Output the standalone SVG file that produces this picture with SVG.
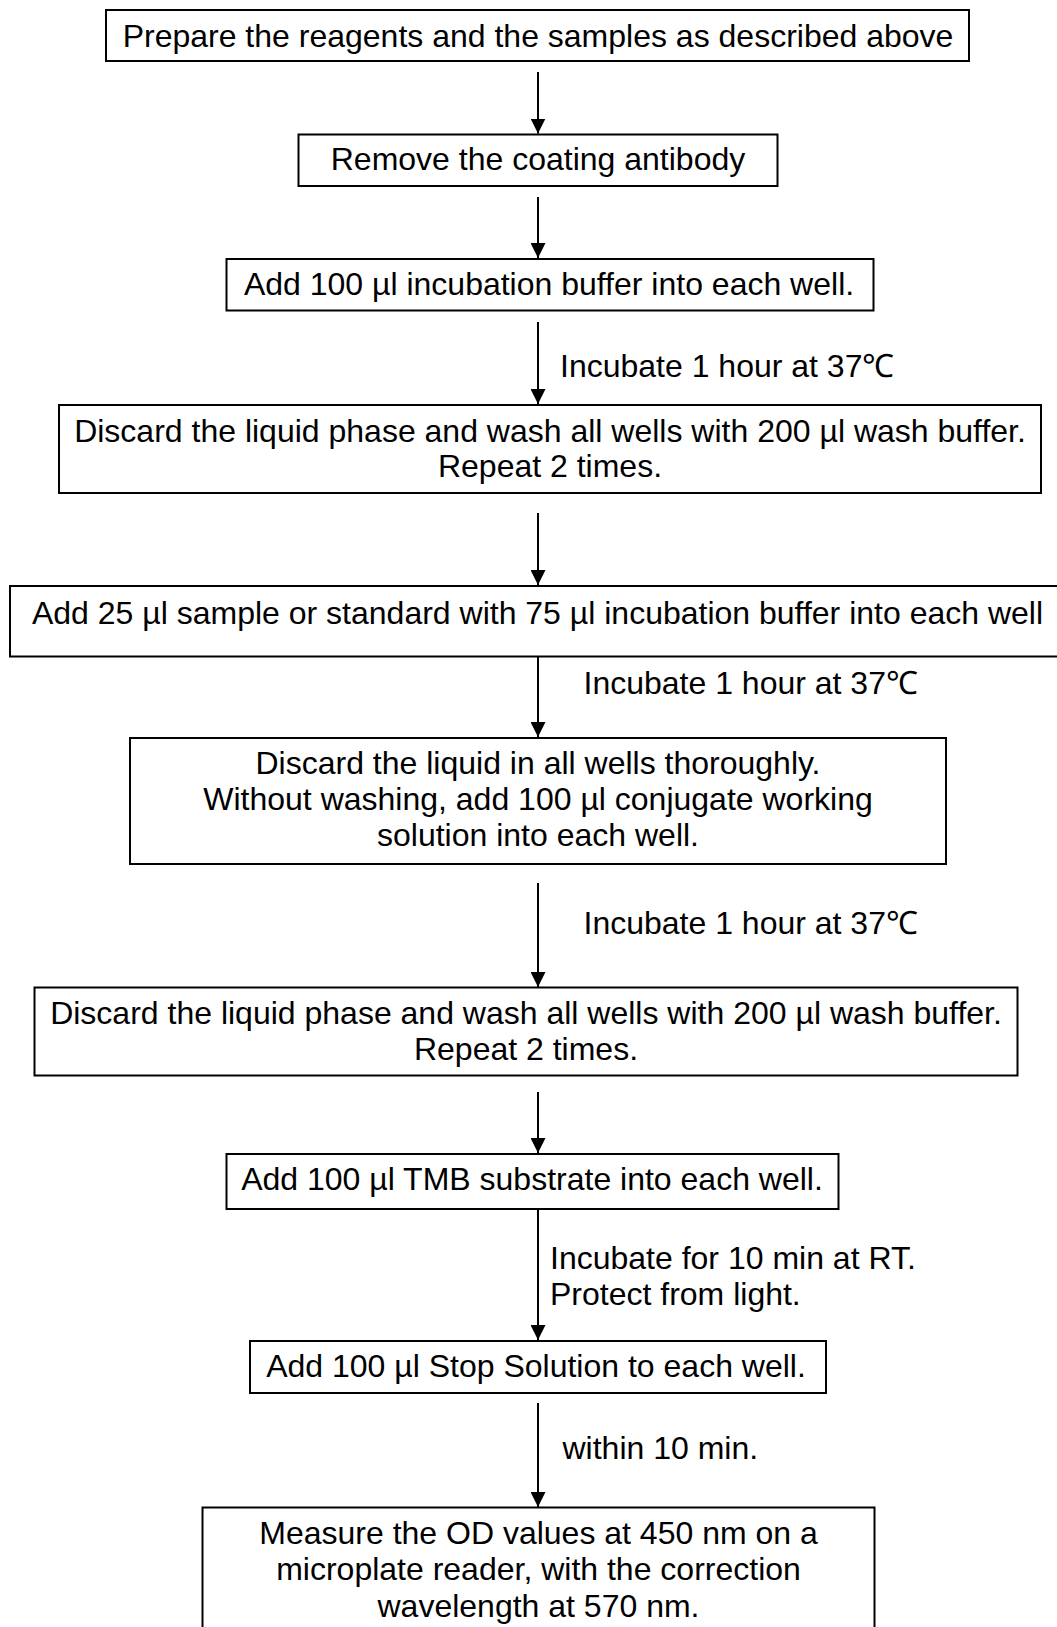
<svg xmlns="http://www.w3.org/2000/svg" width="1057" height="1627" viewBox="0 0 1057 1627">
  <style>
    .box { fill: #fff; stroke: #000; stroke-width: 2; }
    .t { font-family: "Liberation Sans", Arial, sans-serif; font-size: 32px; fill: #000; }
    .c { text-anchor: middle; }
    .edge { stroke: #000; stroke-width: 2; fill: none; marker-end: url(#head); }
  </style>
  <defs>
    <marker id="head" viewBox="0 0 15 15" refX="15" refY="7.5" markerWidth="15" markerHeight="15" markerUnits="userSpaceOnUse" orient="auto">
      <path d="M0,0 L15,7.5 L0,15 z" fill="#000"/>
    </marker>
  </defs>
  <rect width="1057" height="1627" fill="#fff"/>

  <g id="connectors">
    <line class="edge" x1="538" y1="72" x2="538" y2="133.5"/>
    <line class="edge" x1="538" y1="197" x2="538" y2="258"/>
    <line class="edge" x1="538" y1="322" x2="538" y2="404"/>
    <line class="edge" x1="538" y1="513" x2="538" y2="585"/>
    <line class="edge" x1="538" y1="657" x2="538" y2="737"/>
    <line class="edge" x1="538" y1="883" x2="538" y2="987"/>
    <line class="edge" x1="538" y1="1092" x2="538" y2="1153"/>
    <line class="edge" x1="538" y1="1209" x2="538" y2="1340"/>
    <line class="edge" x1="538" y1="1403" x2="538" y2="1507"/>
    <text class="t" x="560" y="376.5">Incubate 1 hour at 37℃</text>
    <text class="t" x="583.5" y="693.5">Incubate 1 hour at 37℃</text>
    <text class="t" x="583.5" y="933.5">Incubate 1 hour at 37℃</text>
    <text class="t" x="550" y="1268.5">Incubate for 10 min at RT.</text>
    <text class="t" x="550" y="1305">Protect from light.</text>
    <text class="t" x="562.5" y="1458.5">within 10 min.</text>
  </g>

  <g id="step1">
    <rect class="box" x="106" y="10" width="863" height="51"/>
    <text class="t c" x="538" y="47">Prepare the reagents and the samples as described above</text>
  </g>
  <g id="step2">
    <rect class="box" x="298.5" y="134.5" width="479" height="51.5"/>
    <text class="t c" x="538" y="170">Remove the coating antibody</text>
  </g>
  <g id="step3">
    <rect class="box" x="226.5" y="259" width="647" height="51.5"/>
    <text class="t c" x="549" y="295">Add 100 µl incubation buffer into each well.</text>
  </g>
  <g id="step4">
    <rect class="box" x="59" y="405" width="982" height="88"/>
    <text class="t c" x="550" y="441.5">Discard the liquid phase and wash all wells with 200 µl wash buffer.</text>
    <text class="t c" x="550" y="477">Repeat 2 times.</text>
  </g>
  <g id="step5">
    <rect class="box" x="10" y="586" width="1060" height="70.5"/>
    <text class="t c" x="537.5" y="623.5">Add 25 µl sample or standard with 75 µl incubation buffer into each well</text>
  </g>
  <g id="step6">
    <rect class="box" x="130" y="738" width="816" height="126"/>
    <text class="t c" x="538" y="773.5">Discard the liquid in all wells thoroughly.</text>
    <text class="t c" x="538" y="810">Without washing, add 100 µl conjugate working</text>
    <text class="t c" x="538" y="845.5">solution into each well.</text>
  </g>
  <g id="step7">
    <rect class="box" x="34.5" y="987.5" width="983" height="88"/>
    <text class="t c" x="526" y="1023.5">Discard the liquid phase and wash all wells with 200 µl wash buffer.</text>
    <text class="t c" x="526" y="1060">Repeat 2 times.</text>
  </g>
  <g id="step8">
    <rect class="box" x="226.5" y="1154" width="612" height="55"/>
    <text class="t c" x="532" y="1190">Add 100 µl TMB substrate into each well.</text>
  </g>
  <g id="step9">
    <rect class="box" x="250" y="1341" width="576" height="52"/>
    <text class="t c" x="536" y="1377">Add 100 µl Stop Solution to each well.</text>
  </g>
  <g id="step10">
    <rect class="box" x="202.5" y="1507.5" width="672" height="140"/>
    <text class="t c" x="538.5" y="1543.5">Measure the OD values at 450 nm on a</text>
    <text class="t c" x="538.5" y="1580">microplate reader, with the correction</text>
    <text class="t c" x="538.5" y="1616.5">wavelength at 570 nm.</text>
  </g>
</svg>
